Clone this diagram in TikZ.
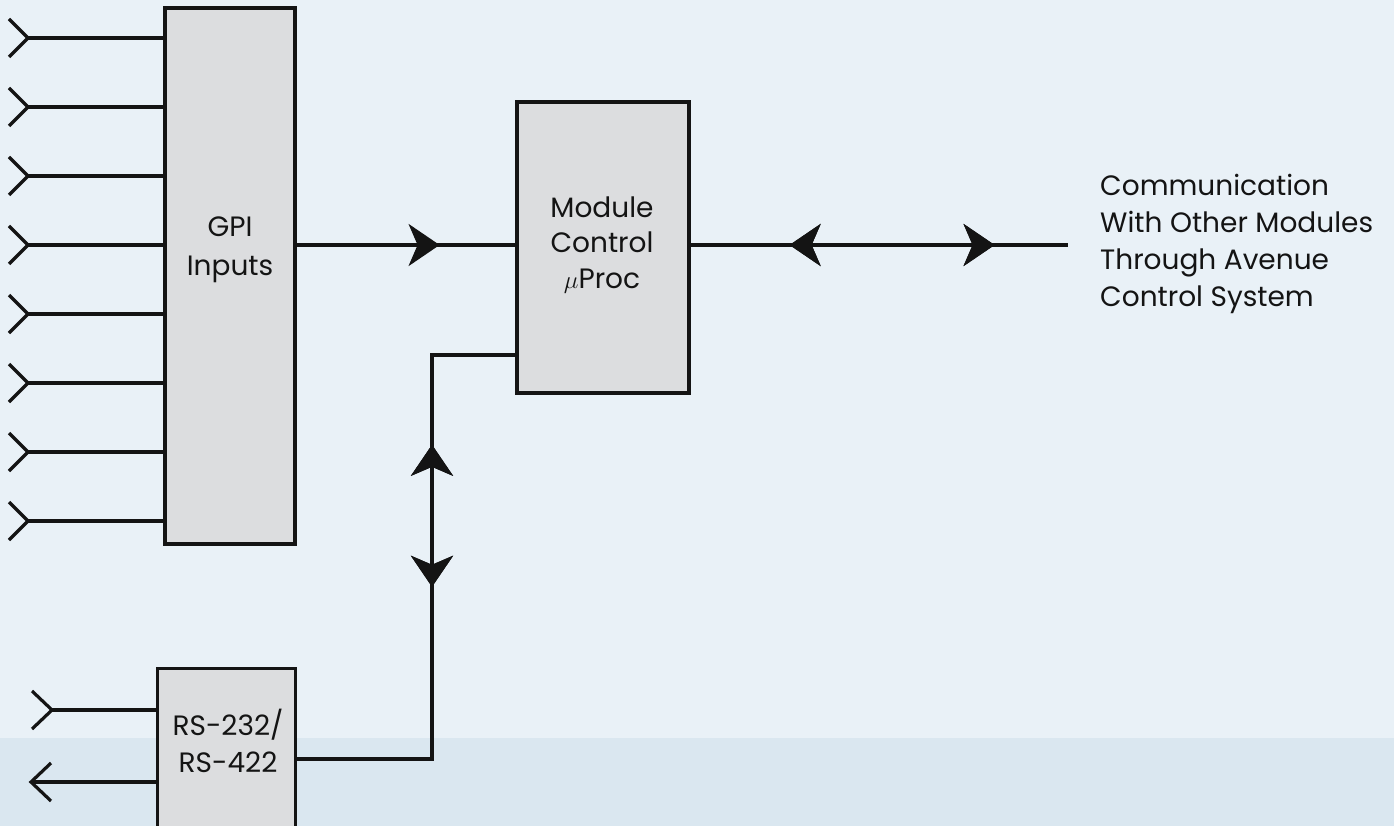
\documentclass[tikz,border=0pt]{standalone}
\usepackage{fontspec}
\setmainfont{Poppins}
\usetikzlibrary{arrows.meta,decorations.markings}
\definecolor{bgtop}{RGB}{233,241,247}
\definecolor{bgband}{RGB}{218,231,240}
\definecolor{boxfill}{RGB}{220,221,223}
\definecolor{ink}{RGB}{20,20,20}
\tikzset{
  blk/.style={draw=ink, fill=boxfill, line width=3.2pt, inner sep=0pt, rectangle},
  wire/.style={draw=ink, line width=3.2pt},
  chev/.style={draw=ink, line width=3.2pt, line join=miter},
  lbl/.style={text=ink, font=\fontsize{28}{36}\selectfont, align=center, inner sep=0pt},
  midtip/.style={decoration={markings, mark=at position #1 with {\arrow{Stealth[length=31pt,width=42pt,inset=9pt]}}}, postaction={decorate}},
  midrev/.style={decoration={markings, mark=at position #1 with {\arrowreversed{Stealth[length=31pt,width=42pt,inset=9pt]}}}, postaction={decorate}}
}
\begin{document}
\begin{tikzpicture}[x=1pt,y=-1pt]
\fill[bgtop] (0,0) rectangle (1394,826);
\fill[bgband] (0,738) rectangle (1394,826);
\useasboundingbox (0,0) rectangle (1394,826);

% boxes
\node[blk, minimum width=130pt, minimum height=536pt] (gpi) at (230,276) {};
\node[blk, minimum width=172pt, minimum height=291pt] (mod) at (603,247.5) {};
\node[blk, minimum width=138pt, minimum height=200pt, anchor=north west] (rs) at (156,667) {};

% labels
\node[lbl, font=\fontsize{28}{39}\selectfont] (gpit) at (230,250) {GPI\\Inputs};
\node[lbl, font=\fontsize{28}{35.5}\selectfont] (modt) at (602,245) {Module\\Control\\$\mu$Proc};
\node[lbl, font=\fontsize{28}{36.5}\selectfont] (rst) at (228,741) {RS-232/\\RS-422};
\node[lbl, align=left, anchor=west, font=\fontsize{28}{37.3}\selectfont] (comm) at (1100,244) {Communication\\With Other Modules\\Through Avenue\\Control System};

% GPI inputs
\foreach \i in {0,...,7} {
  \pgfmathsetmacro{\yy}{38+69*\i}
  \coordinate (in\i) at (28,\yy);
  \draw[wire] (in\i) -- (gpi.west |- in\i);
  \draw[chev] ([shift={(-19,-19)}]in\i) -- (in\i) -- ([shift={(-19,19)}]in\i);
}

% GPI -> module
\coordinate (gm) at (0,245);
\draw[wire, midtip=143pt] (gpi.east |- gm) -- (mod.west |- gm);

% module -> communication
\coordinate (commend) at (1068,245);
\draw[wire, midrev=99pt, midtip=304pt] (mod.east |- commend) -- (commend);

% RS-232 <-> module
\coordinate (rsy) at (0,759);
\coordinate (bend1) at (432,759);
\coordinate (bend2) at (432,355);
\draw[wire, midrev=307pt, midtip=449pt] (rs.east |- rsy) -- (bend1) -- (bend2) -- (mod.west |- bend2);

% RS-232 input / output
\coordinate (rsin) at (52,710);
\draw[wire] (rsin) -- (rs.west |- rsin);
\draw[chev] ([shift={(-20,-19)}]rsin) -- (rsin) -- ([shift={(-20,19)}]rsin);
\coordinate (rsout) at (31,782);
\draw[wire] (rs.west |- rsout) -- (rsout);
\draw[chev] ([shift={(20,-19)}]rsout) -- (rsout) -- ([shift={(20,19)}]rsout);
\end{tikzpicture}
\end{document}
